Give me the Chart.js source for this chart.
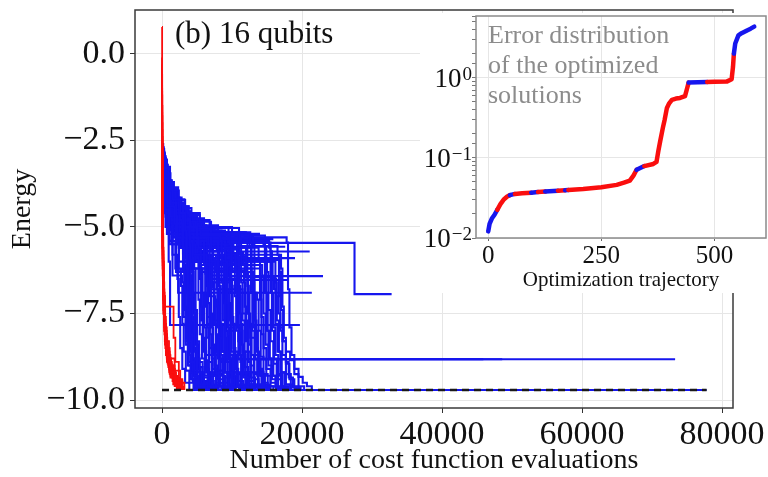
<!DOCTYPE html>
<html>
<head>
<meta charset="utf-8">
<script src="https://cdn.jsdelivr.net/npm/chart.js@4.4.0/dist/chart.umd.min.js"></script>
<style>
  html, body { margin: 0; padding: 0; background: #fff; }
  #wrap { position: relative; width: 768px; height: 477px; }
  #main { position: absolute; left: 0; top: 0; }
  #inset { position: absolute; left: 420px; top: 13px; background: #fff; }
</style>
</head>
<body>
<div id="wrap">
  <canvas id="main" width="768" height="477"></canvas>
  <canvas id="inset" width="348" height="280"></canvas>
</div>
<script>
// ---- main panel data: best energy so far, [evaluations, energy] ----
const energyTicks = [0, -2.5, -5, -7.5, -10];
const evalTicks = [0, 20000, 40000, 60000, 80000];
const groundEnergy = -9.71;
const groundEnd = 77800;

const blueRuns = [
  [[0,-2.6],[150,-2.9],[400,-3.3],[900,-3.8],[1500,-4.2],[2600,-4.6],[3300,-5.1],[3500,-6.2],[3700,-7.4],[3900,-8.3],[4200,-8.9],[4600,-9.3],[5200,-9.6],[6000,-9.71],[77800,-9.71]],
  [[0,-3.0],[300,-3.6],[800,-4.4],[1800,-4.9],[3000,-5.6],[3200,-6.8],[3400,-7.9],[3700,-8.7],[4100,-9.2],[4700,-9.55],[5500,-9.71],[22000,-9.71]],
  [[0,-3.3],[500,-4.0],[1200,-4.7],[2200,-5.3],[3600,-6.0],[3800,-7.2],[4000,-8.1],[4300,-8.8],[4700,-9.3],[5300,-9.6],[6200,-9.71],[25000,-9.71]],
  [[0,-2.8],[200,-3.4],[700,-4.3],[2000,-5.0],[3900,-5.5],[4100,-6.6],[4300,-7.7],[4600,-8.6],[5000,-9.2],[5600,-9.55],[6500,-9.71],[30000,-9.71]],
  [[0,-3.6],[400,-4.5],[1000,-5.2],[3100,-6.1],[3300,-7.3],[3500,-8.2],[3800,-8.9],[4300,-9.4],[5000,-9.65],[5800,-9.71],[24000,-9.71]],
  [[0,-3.1],[600,-3.9],[1400,-4.8],[2800,-5.4],[4300,-5.9],[4500,-7.0],[4700,-8.0],[5000,-8.8],[5400,-9.3],[6000,-9.6],[7000,-9.71],[46000,-9.71]],
  [[0,-3.9],[300,-4.6],[1100,-5.5],[2400,-6.3],[3400,-6.9],[3600,-7.9],[3900,-8.7],[4300,-9.2],[4900,-9.6],[5700,-9.71],[28000,-9.71]],
  [[0,-2.9],[350,-3.7],[1300,-4.5],[2500,-5.1],[3800,-5.2],[4000,-6.4],[4200,-7.6],[4500,-8.5],[4900,-9.1],[5500,-9.5],[6400,-9.71],[21000,-9.71]],
  [[0,-3.4],[700,-4.2],[1600,-4.9],[3300,-5.7],[3500,-6.9],[3700,-7.9],[4000,-8.6],[4400,-9.2],[5000,-9.55],[5900,-9.71],[46000,-9.71]],
  [[0,-4.1],[500,-5.0],[1500,-6.4],[2900,-6.6],[3100,-7.6],[3400,-8.4],[3800,-9.0],[4400,-9.45],[5200,-9.71],[23000,-9.71]],
  [[0,-3.2],[500,-4.1],[1500,-4.8],[3000,-5.3],[5200,-5.6],[6000,-6.1],[6200,-7.3],[6400,-8.2],[6700,-8.9],[7100,-9.3],[7700,-9.6],[8500,-9.71],[46000,-9.71]],
  [[0,-3.5],[800,-4.4],[2000,-5.2],[4500,-5.8],[6300,-6.5],[6500,-7.6],[6800,-8.5],[7200,-9.1],[7800,-9.5],[8600,-9.71],[26000,-9.71]],
  [[0,-2.9],[400,-3.8],[1200,-4.6],[2600,-5.0],[5000,-5.3],[6600,-5.5],[6800,-6.8],[7000,-7.9],[7300,-8.7],[7700,-9.2],[8300,-9.6],[9200,-9.71],[32000,-9.71]],
  [[0,-3.3],[600,-4.3],[1700,-5.0],[3500,-5.4],[6000,-5.8],[7700,-6.2],[7900,-7.3],[8100,-8.2],[8400,-8.9],[8800,-9.35],[9500,-9.65],[10500,-9.71],[46000,-9.71]],
  [[0,-3.7],[900,-4.6],[2200,-5.5],[4800,-6.0],[8000,-6.7],[8200,-7.8],[8500,-8.6],[8900,-9.2],[9500,-9.55],[10300,-9.71],[27000,-9.71]],
  [[0,-3.0],[450,-3.9],[1300,-4.7],[3000,-5.1],[5500,-5.25],[8300,-5.4],[8500,-6.6],[8700,-7.7],[9000,-8.6],[9400,-9.2],[10000,-9.6],[11000,-9.71],[29000,-9.71]],
  [[0,-3.1],[700,-4.0],[1900,-4.8],[4000,-5.3],[7000,-5.7],[9100,-6.0],[9300,-7.2],[9500,-8.1],[9800,-8.8],[10200,-9.3],[10900,-9.6],[11800,-9.71],[46000,-9.71]],
  [[0,-3.8],[1000,-4.7],[2500,-5.6],[5500,-6.2],[9400,-6.6],[9600,-7.7],[9900,-8.6],[10300,-9.2],[10900,-9.55],[11700,-9.71],[30000,-9.71]],
  [[0,-3.4],[600,-4.2],[1800,-4.9],[4200,-5.2],[9700,-5.5],[9900,-6.7],[10100,-7.8],[10400,-8.6],[10800,-9.2],[11400,-9.6],[12300,-9.71],[25000,-9.71]],
  [[0,-3.2],[800,-4.1],[2100,-4.9],[4500,-5.4],[8000,-5.8],[10500,-6.3],[10700,-7.4],[10900,-8.3],[11200,-8.9],[11600,-9.35],[12300,-9.65],[13200,-9.71],[46000,-9.71]],
  [[0,-3.6],[1100,-4.6],[2700,-5.3],[6000,-5.6],[10800,-5.9],[11000,-7.0],[11200,-8.0],[11500,-8.7],[11900,-9.2],[12500,-9.55],[13400,-9.71],[28000,-9.71]],
  [[0,-2.95],[500,-3.85],[1400,-4.65],[3400,-5.05],[7000,-5.2],[11100,-5.35],[11300,-6.6],[11500,-7.7],[11800,-8.6],[12200,-9.2],[12800,-9.6],[13700,-9.71],[33000,-9.71]],
  [[0,-3.3],[900,-4.3],[2300,-5.1],[5000,-5.5],[9000,-5.9],[12000,-6.4],[12200,-7.5],[12400,-8.4],[12700,-9.0],[13100,-9.4],[13800,-9.65],[14700,-9.71],[46000,-9.71]],
  [[0,-3.9],[1200,-4.9],[3000,-5.8],[7000,-6.3],[12300,-6.9],[12500,-7.9],[12800,-8.7],[13200,-9.2],[13800,-9.55],[14600,-9.71],[31000,-9.71]],
  [[0,-3.15],[650,-4.05],[2000,-4.85],[4800,-5.15],[12600,-5.45],[12800,-6.8],[13000,-7.9],[13300,-8.7],[13700,-9.25],[14300,-9.6],[15200,-9.71],[27000,-9.71]],
  [[0,-3.5],[1000,-4.5],[2600,-5.3],[6000,-5.7],[10000,-6.1],[14300,-6.4],[14500,-7.5],[14800,-8.4],[15200,-9.0],[15700,-9.4],[16400,-9.65],[17300,-9.71],[46000,-9.71]],
  [[0,-3.05],[550,-3.95],[1700,-4.75],[4000,-5.1],[9000,-5.25],[14700,-5.6],[14900,-6.9],[15100,-8.0],[15400,-8.8],[15900,-9.3],[16600,-9.6],[17500,-9.71],[34000,-9.71]],
  [[0,-3.7],[1200,-4.8],[3200,-5.6],[8000,-6.0],[16200,-6.6],[16400,-7.7],[16700,-8.6],[17100,-9.2],[17700,-9.55],[18500,-9.71],[46000,-9.71]],
  [[0,-3.25],[750,-4.15],[2300,-5.0],[5500,-5.35],[11000,-5.55],[16500,-5.8],[16700,-7.0],[16900,-8.0],[17200,-8.7],[17700,-9.25],[18400,-9.6],[19300,-9.71],[36000,-9.71]],
  [[0,-3.4],[900,-4.4],[2500,-5.2],[6500,-5.6],[12000,-6.0],[15800,-6.5],[16300,-7.0],[16600,-7.5],[16900,-7.9],[17200,-8.3],[17700,-8.6],[18300,-8.85],[18900,-9.1],[19500,-9.33],[20100,-9.5],[20700,-9.6],[21400,-9.71],[46000,-9.71]],
  [[0,-3.0],[400,-3.8],[1000,-4.5],[2400,-5.2],[3500,-5.8],[3700,-7.0],[3900,-8.0],[4200,-8.8],[4600,-9.3],[5300,-9.6],[6100,-9.71],[24000,-9.71]],
  [[0,-3.5],[600,-4.3],[1500,-5.0],[2800,-5.5],[3800,-6.3],[4000,-7.5],[4200,-8.4],[4500,-9.0],[5000,-9.4],[5700,-9.65],[6600,-9.71],[26000,-9.71]],
  [[0,-2.8],[300,-3.5],[900,-4.2],[2000,-4.8],[3000,-5.4],[4200,-5.7],[4400,-6.9],[4600,-7.9],[4900,-8.7],[5300,-9.2],[5900,-9.6],[6800,-9.71],[28000,-9.71]],
  [[0,-3.8],[500,-4.7],[1400,-5.4],[3000,-6.0],[4600,-6.2],[4800,-7.4],[5000,-8.3],[5300,-8.9],[5800,-9.35],[6500,-9.65],[7300,-9.71],[46000,-9.71]],
  [[0,-3.2],[700,-4.1],[1800,-4.9],[3300,-5.3],[5000,-5.9],[5200,-7.1],[5400,-8.1],[5700,-8.8],[6100,-9.3],[6800,-9.6],[7600,-9.71],[30000,-9.71]],
  [[0,-3.6],[800,-4.6],[2000,-5.3],[4000,-5.8],[5500,-6.4],[5700,-7.6],[5900,-8.5],[6200,-9.1],[6700,-9.45],[7400,-9.71],[22000,-9.71]],
  [[0,-2.9],[350,-3.7],[1100,-4.4],[2600,-5.0],[4400,-5.3],[6000,-5.6],[6200,-6.9],[6400,-7.9],[6700,-8.7],[7100,-9.25],[7700,-9.6],[8500,-9.71],[46000,-9.71]],
  [[0,-3.4],[600,-4.3],[1600,-5.1],[3600,-5.6],[5600,-6.1],[6800,-6.4],[7000,-7.5],[7200,-8.4],[7500,-9.0],[8000,-9.4],[8700,-9.65],[9500,-9.71],[27000,-9.71]],
  [[0,-3.1],[500,-4.0],[1400,-4.7],[3200,-5.2],[6000,-5.5],[7300,-5.9],[7500,-7.1],[7700,-8.1],[8000,-8.8],[8400,-9.3],[9000,-9.6],[9800,-9.71],[31000,-9.71]],
  [[0,-3.7],[900,-4.6],[2300,-5.4],[4600,-6.0],[7800,-6.8],[8000,-7.9],[8300,-8.7],[8700,-9.2],[9300,-9.55],[10100,-9.71],[46000,-9.71]],
  [[0,-3.3],[700,-4.2],[1900,-5.0],[4200,-5.4],[7000,-5.7],[8600,-6.0],[8800,-7.2],[9000,-8.2],[9300,-8.9],[9700,-9.35],[10300,-9.62],[11100,-9.71],[24000,-9.71]],
  [[0,-3.0],[450,-3.9],[1300,-4.6],[3100,-5.0],[6500,-5.3],[9000,-5.5],[9200,-6.8],[9400,-7.9],[9700,-8.7],[10100,-9.2],[10700,-9.58],[11500,-9.71],[29000,-9.71]],
  [[0,-3.5],[800,-4.4],[2100,-5.2],[4800,-5.7],[8000,-6.1],[9800,-6.5],[10000,-7.6],[10200,-8.5],[10500,-9.1],[10900,-9.45],[11600,-9.68],[12400,-9.71],[46000,-9.71]],
  [[0,-3.15],[600,-4.05],[1700,-4.85],[3800,-5.25],[7500,-5.5],[10200,-5.8],[10400,-7.0],[10600,-8.0],[10900,-8.8],[11300,-9.3],[11900,-9.6],[12700,-9.71],[26000,-9.71]],
  [[0,-3.8],[1000,-4.8],[2600,-5.6],[6000,-6.1],[11000,-6.7],[11200,-7.8],[11500,-8.6],[11900,-9.2],[12500,-9.55],[13300,-9.71],[33000,-9.71]],
  [[0,-3.3],[750,-4.2],[2000,-5.0],[4600,-5.4],[9000,-5.75],[11600,-6.1],[11800,-7.3],[12000,-8.3],[12300,-8.9],[12700,-9.35],[13300,-9.63],[14100,-9.71],[46000,-9.71]],
  [[0,-3.0],[500,-3.9],[1500,-4.7],[3500,-5.1],[8000,-5.3],[12500,-5.6],[12700,-6.9],[12900,-8.0],[13200,-8.8],[13600,-9.3],[14200,-9.6],[15000,-9.71],[30000,-9.71]],
  [[0,-3.6],[950,-4.6],[2500,-5.4],[5500,-5.9],[10000,-6.3],[13000,-6.6],[13200,-7.7],[13500,-8.6],[13900,-9.2],[14500,-9.55],[15300,-9.71],[46000,-9.71]],
  [[0,-3.2],[650,-4.1],[1800,-4.9],[4200,-5.3],[9000,-5.6],[13800,-5.9],[14000,-7.1],[14200,-8.1],[14500,-8.8],[14900,-9.3],[15500,-9.6],[16300,-9.71],[28000,-9.71]],
  [[0,-3.45],[850,-4.35],[2200,-5.15],[5000,-5.55],[10000,-5.95],[15000,-6.3],[15200,-7.4],[15500,-8.3],[15900,-8.95],[16400,-9.4],[17100,-9.65],[18000,-9.71],[46000,-9.71]],
  [[0,-3.1],[550,-4.0],[1600,-4.8],[3900,-5.2],[8500,-5.45],[15500,-5.7],[15700,-6.9],[15900,-7.9],[16200,-8.7],[16600,-9.25],[17200,-9.6],[18000,-9.71],[35000,-9.71]],
  [[0,-3.75],[1050,-4.75],[2800,-5.55],[6500,-6.05],[12000,-6.45],[16000,-6.8],[16200,-7.8],[16500,-8.6],[16900,-9.2],[17500,-9.55],[18300,-9.71],[46000,-9.71]],
  [[0,-3.35],[700,-4.25],[2000,-5.05],[4500,-5.45],[9500,-5.8],[17000,-6.2],[17200,-7.3],[17400,-8.2],[17700,-8.9],[18100,-9.35],[18700,-9.62],[19500,-9.71],[38000,-9.71]],
  [[0,-3.2],[300,-4.2],[800,-5.0],[1500,-5.8],[2200,-6.5],[2400,-7.6],[2600,-8.5],[2900,-9.1],[3300,-9.5],[3900,-9.71],[22000,-9.71]],
  [[0,-3.5],[400,-4.5],[1000,-5.4],[1900,-6.2],[2700,-6.7],[2900,-7.8],[3100,-8.6],[3400,-9.15],[3900,-9.5],[4500,-9.71],[25000,-9.71]],
  [[0,-2.9],[250,-3.8],[700,-4.7],[1400,-5.5],[2400,-6.0],[3000,-6.3],[3200,-7.4],[3400,-8.3],[3700,-9.0],[4100,-9.4],[4700,-9.65],[5400,-9.71],[27000,-9.71]],
  [[0,-3.9],[1200,-5.0],[3200,-5.9],[7000,-6.5],[10500,-6.9],[10700,-7.9],[11000,-8.7],[11400,-9.2],[12000,-9.55],[12800,-9.71],[46000,-9.71]],
  [[0,-4.0],[1300,-5.1],[3500,-6.0],[6500,-6.6],[8800,-7.1],[9000,-8.0],[9300,-8.75],[9700,-9.25],[10300,-9.6],[11100,-9.71],[29000,-9.71]],
  [[0,-3.85],[1100,-4.9],[3000,-5.75],[6200,-6.35],[7200,-6.75],[7400,-7.8],[7700,-8.6],[8100,-9.15],[8700,-9.5],[9500,-9.71],[46000,-9.71]],
  [[0,-4.2],[1500,-5.3],[3800,-6.2],[5800,-6.9],[6000,-7.9],[6300,-8.7],[6700,-9.2],[7300,-9.55],[8100,-9.71],[25000,-9.71]],
  [[0,-3.3],[650,-4.2],[1900,-5.0],[4300,-5.5],[8000,-5.85],[12000,-6.2],[14000,-6.5],[14200,-7.6],[14500,-8.5],[14900,-9.1],[15500,-9.5],[16300,-9.71],[46000,-9.71]],
  [[0,-3.55],[900,-4.55],[2400,-5.35],[5200,-5.8],[9500,-6.2],[12800,-6.5],[13000,-7.6],[13300,-8.5],[13700,-9.1],[14300,-9.5],[15100,-9.71],[32000,-9.71]],
  [[0,-3.05],[450,-3.95],[1300,-4.7],[3000,-5.15],[5800,-5.35],[8000,-5.5],[8200,-6.7],[8400,-7.8],[8700,-8.6],[9100,-9.2],[9700,-9.58],[10500,-9.71],[26000,-9.71]],
  [[0,-3.65],[1000,-4.65],[2600,-5.45],[5600,-5.95],[7500,-6.25],[11700,-6.6],[11900,-7.7],[12200,-8.6],[12600,-9.2],[13200,-9.55],[14000,-9.71],[46000,-9.71]],
  [[0,-3.25],[600,-4.15],[1700,-4.95],[4000,-5.35],[7800,-5.65],[10800,-6.4],[11000,-7.5],[11300,-8.4],[11700,-9.05],[12300,-9.45],[13100,-9.71],[30000,-9.71]],
  [[0,-3.95],[1200,-5.0],[3300,-5.85],[7000,-6.4],[9200,-6.9],[13600,-7.1],[13800,-8.0],[14100,-8.75],[14500,-9.25],[15100,-9.6],[15900,-9.71],[46000,-9.71]],
  [[0,-3.4],[750,-4.35],[2100,-5.15],[4800,-5.6],[8600,-5.95],[16800,-6.3],[17000,-7.4],[17300,-8.3],[17700,-8.95],[18200,-9.4],[18900,-9.65],[19800,-9.71],[46000,-9.71]],
  [[0,-3.1],[500,-4.0],[1500,-4.8],[3400,-5.25],[7000,-5.5],[9500,-5.65],[9700,-6.9],[9900,-7.9],[10200,-8.7],[10600,-9.25],[11200,-9.6],[12000,-9.71],[27000,-9.71]],
  [[0,-3.75],[1000,-4.75],[2700,-5.6],[5400,-6.15],[5600,-7.3],[5800,-8.2],[6100,-8.85],[6500,-9.3],[7100,-9.6],[7900,-9.71],[23000,-9.71]],
  [[0,-3.45],[800,-4.4],[2200,-5.2],[4700,-5.7],[6400,-6.1],[6600,-7.2],[6800,-8.1],[7100,-8.8],[7500,-9.3],[8100,-9.6],[8900,-9.71],[46000,-9.71]],
  // slow starters that fill the upper front
  [[0,-2.65],[100,-2.8],[250,-3.0],[500,-3.2],[800,-3.45],[1200,-3.7],[1700,-3.95],[2400,-4.2],[3200,-4.45],[4200,-4.65],[5400,-4.85],[7000,-5.05],[7200,-6.6],[7400,-7.8],[7700,-8.7],[8100,-9.25],[8700,-9.6],[9500,-9.71],[30000,-9.71]],
  [[0,-2.7],[120,-2.95],[300,-3.2],[600,-3.5],[1000,-3.8],[1500,-4.05],[2200,-4.35],[3000,-4.6],[4000,-4.85],[5600,-5.1],[8000,-5.3],[8800,-5.5],[9000,-6.9],[9200,-8.0],[9500,-8.8],[9900,-9.3],[10500,-9.62],[11300,-9.71],[46000,-9.71]],
  [[0,-2.8],[180,-3.1],[400,-3.35],[700,-3.6],[1100,-3.9],[1600,-4.15],[2300,-4.4],[3100,-4.65],[4300,-4.9],[6000,-5.15],[10500,-5.3],[10700,-6.8],[10900,-7.9],[11200,-8.7],[11600,-9.25],[12200,-9.6],[13000,-9.71],[33000,-9.71]],
  [[0,-2.75],[150,-3.0],[350,-3.25],[650,-3.55],[1000,-3.75],[1400,-4.0],[2000,-4.3],[2800,-4.5],[3600,-4.75],[5000,-5.0],[6500,-5.25],[13000,-5.5],[13200,-6.9],[13400,-8.0],[13700,-8.8],[14100,-9.3],[14700,-9.62],[15500,-9.71],[40000,-9.71]],
  [[0,-2.85],[200,-3.15],[450,-3.4],[800,-3.7],[1300,-4.0],[1900,-4.25],[2600,-4.5],[3500,-4.7],[4700,-4.95],[6300,-5.2],[9000,-5.4],[15300,-5.6],[15500,-6.9],[15700,-8.0],[16000,-8.8],[16400,-9.3],[17000,-9.62],[17800,-9.71],[46000,-9.71]],
  [[0,-2.9],[250,-3.2],[550,-3.5],[900,-3.8],[1350,-4.1],[2000,-4.35],[2900,-4.6],[4000,-4.85],[5200,-5.1],[5400,-6.5],[5600,-7.7],[5900,-8.6],[6300,-9.2],[6900,-9.58],[7700,-9.71],[26000,-9.71]],
  [[0,-2.95],[220,-3.3],[500,-3.6],[900,-3.9],[1400,-4.2],[2100,-4.45],[3000,-4.7],[4100,-4.9],[4300,-6.3],[4500,-7.5],[4800,-8.4],[5200,-9.05],[5800,-9.45],[6600,-9.71],[24000,-9.71]],
  [[0,-3.0],[200,-3.35],[450,-3.65],[850,-3.95],[1300,-4.25],[1900,-4.5],[2700,-4.75],[3700,-5.0],[3900,-6.4],[4100,-7.6],[4400,-8.5],[4800,-9.1],[5400,-9.5],[6200,-9.71],[22000,-9.71]],
  [[0,-2.7],[100,-2.9],[280,-3.15],[550,-3.4],[900,-3.65],[1300,-3.9],[1850,-4.15],[2500,-4.4],[3300,-4.6],[4400,-4.8],[5800,-4.95],[8000,-5.15],[12000,-5.25],[12200,-6.7],[12400,-7.8],[12700,-8.7],[13100,-9.25],[13700,-9.6],[14500,-9.71],[46000,-9.71]],
  [[0,-2.8],[160,-3.05],[380,-3.3],[700,-3.55],[1100,-3.85],[1600,-4.1],[2200,-4.3],[3000,-4.55],[4000,-4.8],[5200,-5.0],[7000,-5.2],[9500,-5.4],[14500,-5.5],[14700,-6.9],[14900,-8.0],[15200,-8.8],[15600,-9.3],[16200,-9.62],[17000,-9.71],[36000,-9.71]],
  [[0,-3.1],[300,-3.45],[650,-3.75],[1100,-4.05],[1700,-4.3],[2500,-4.55],[3400,-4.8],[4600,-5.05],[6100,-5.3],[6300,-6.7],[6500,-7.8],[6800,-8.7],[7200,-9.25],[7800,-9.6],[8600,-9.71],[28000,-9.71]],
  [[0,-2.65],[120,-2.9],[320,-3.15],[600,-3.4],[950,-3.65],[1400,-3.9],[2000,-4.15],[2800,-4.4],[3800,-4.6],[5000,-4.8],[6800,-5.0],[9500,-5.15],[11800,-5.3],[17800,-5.45],[18000,-6.8],[18200,-7.9],[18500,-8.7],[18900,-9.25],[19500,-9.6],[20300,-9.71],[46000,-9.71]],
  // runs that stopped before reaching the ground state
  [[0,-3.2],[600,-4.0],[1800,-4.7],[4000,-5.0],[7500,-5.46],[27500,-6.94],[32800,-6.94]],
  [[0,-3.5],[800,-4.5],[2200,-5.4],[4500,-6.2],[6800,-7.0],[7600,-7.7],[8300,-8.82],[73300,-8.82]],
  [[0,-3.6],[1000,-4.6],[2600,-5.5],[5500,-6.3],[9000,-7.2],[9800,-8.0],[10400,-8.82],[48600,-8.82]],
  [[0,-3.0],[500,-4.1],[1500,-5.0],[3600,-6.0],[7000,-6.8],[11500,-7.5],[12600,-8.2],[13300,-8.82],[45900,-8.82]],
  [[0,-3.0],[300,-4.3],[700,-5.2],[950,-6.0],[1150,-7.83],[19700,-7.83]],
  [[0,-3.3],[700,-4.4],[1700,-5.3],[2000,-6.3],[2300,-6.9],[21400,-6.9]],
  [[0,-3.6],[900,-4.7],[2400,-5.6],[5000,-6.0],[9500,-6.42],[23000,-6.42]],
  [[0,-3.1],[600,-4.2],[1600,-5.0],[3800,-5.7],[8000,-6.53],[18000,-6.53]],
  [[0,-3.4],[800,-4.3],[2200,-5.0],[6000,-5.4],[11000,-5.71],[21100,-5.71]],
  [[0,-3.7],[1100,-4.8],[3000,-5.5],[9000,-5.9],[19000,-5.9]],
  [[0,-2.9],[400,-3.7],[1200,-4.5],[3200,-5.1],[8500,-5.57],[17600,-5.57]],
  [[0,-2.75],[300,-3.3],[900,-3.9],[2100,-4.4],[3800,-4.75],[6000,-5.03],[11000,-5.35],[15900,-5.35]],
  [[0,-2.6],[150,-2.85],[400,-3.05],[700,-3.26],[1140,-3.85],[2300,-4.22],[3300,-4.6],[5400,-5.0],[10000,-5.2],[14000,-5.2]],
  [[0,-2.7],[250,-3.3],[800,-4.1],[2000,-4.6],[4200,-5.03],[7300,-5.03]]
];

const redRuns = [
  [[0,0.78],[15,-1.5],[40,-3.5],[80,-5.0],[150,-6.3],[250,-7.3],[400,-8.1],[700,-8.7],[1200,-9.2],[1900,-9.5],[2400,-9.71]],
  [[0,-0.6],[20,-2.8],[60,-4.6],[130,-6.0],[250,-7.0],[400,-7.9],[650,-8.5],[1100,-9.0],[1800,-9.4],[2600,-9.71]],
  [[0,-1.2],[30,-3.3],[80,-5.2],[170,-6.6],[320,-7.6],[550,-8.3],[1000,-8.8],[1800,-9.15],[2600,-9.5],[3200,-9.71]],
  [[0,-1.8],[25,-3.9],[70,-5.6],[160,-6.9],[300,-7.3],[1600,-7.3],[1650,-8.2],[1900,-8.9],[2400,-9.4],[2900,-9.71]],
  [[0,-2.2],[35,-4.3],[100,-6.1],[220,-7.4],[420,-8.2],[750,-8.8],[1300,-9.2],[2000,-9.5],[2700,-9.71]],
  [[0,-0.9],[15,-2.5],[45,-4.1],[100,-5.7],[200,-7.0],[380,-8.0],[650,-8.6],[1100,-9.1],[1800,-9.45],[2400,-9.71]],
  [[0,-1.5],[22,-3.6],[65,-5.4],[150,-6.8],[300,-7.8],[520,-8.5],[900,-9.0],[1600,-9.35],[2500,-9.71]],
  [[0,-2.6],[40,-4.8],[120,-6.5],[280,-7.8],[550,-8.6],[1000,-9.1],[1800,-9.45],[2900,-9.71]],
  [[0,-0.3],[12,-2.0],[35,-3.8],[90,-5.6],[190,-6.9],[360,-7.9],[620,-8.7],[1100,-9.25],[1800,-9.6],[2300,-9.71]],
  [[0,-1.0],[18,-3.0],[55,-4.9],[130,-6.3],[250,-7.4],[450,-8.3],[800,-8.9],[1400,-9.3],[2200,-9.55],[2900,-9.71]],
  [[0,-2.0],[30,-4.0],[85,-5.9],[190,-7.1],[380,-8.1],[680,-8.8],[1200,-9.3],[1900,-9.6],[2500,-9.71]],
  [[0,-0.1],[10,-1.8],[30,-3.4],[75,-5.3],[170,-6.8],[330,-7.9],[600,-8.7],[1050,-9.2],[1600,-9.55],[2100,-9.71]],
  [[0,-1.4],[15,-3.2],[45,-5.0],[100,-6.4],[210,-7.5],[400,-8.3],[700,-8.9],[1200,-9.35],[1900,-9.6],[2400,-9.71]],
  [[0,-0.7],[12,-2.4],[40,-4.3],[95,-6.0],[200,-7.2],[380,-8.1],[680,-8.75],[1150,-9.2],[1900,-9.55],[2700,-9.71]],
  [[0,-2.4],[30,-4.5],[90,-6.2],[210,-7.5],[420,-8.4],[800,-8.95],[1400,-9.35],[2200,-9.62],[3100,-9.71]],
  [[0,-1.1],[20,-3.1],[60,-5.1],[140,-6.6],[280,-7.7],[500,-8.5],[900,-9.05],[1500,-9.45],[2300,-9.71]],
  [[0,-0.4],[10,-2.2],[35,-4.0],[85,-5.8],[180,-7.1],[340,-8.0],[600,-8.65],[1050,-9.15],[1700,-9.5],[2500,-9.71]],
  [[0,-1.7],[25,-3.7],[75,-5.6],[170,-7.0],[330,-8.0],[600,-8.7],[1100,-9.2],[1800,-9.55],[2700,-9.71]]
];

// ---- inset data: sorted error of the final solutions ----
const insetIdx = [0,3,8,14,20,27,35,42,48,59,75,95,110,126,154,170,177,210,250,284,300,313,321,328,345,365,372,376,380,386,390,395,400,406,415,424,435,440,443,484,500,527,538,541,543,546,553,560,572,580,588];
const insetErr = [0.0121,0.0150,0.0175,0.0195,0.0225,0.0265,0.0305,0.0330,0.0343,0.0355,0.0362,0.0368,0.0374,0.0380,0.0390,0.0395,0.0398,0.0410,0.0430,0.0460,0.0490,0.0520,0.0600,0.0710,0.0790,0.0840,0.0890,0.121,0.160,0.237,0.300,0.420,0.480,0.530,0.550,0.560,0.590,0.750,0.870,0.885,0.890,0.895,0.960,1.36,2.0,2.68,3.38,3.6,3.9,4.1,4.35];
const insetSource = ['b','b','b','b','r','r','r','r','b','r','r','b','r','b','r','b','r','r','r','r','r','r','r','b','r','r','r','r','r','r','r','r','r','r','r','r','r','r','b','r','r','r','r','r','b','b','b','b','b','b','b'];
const insetXTicks = [0, 250, 500];
const insetDecades = [-2, -1, 0];

const serif = "'Liberation Serif', 'DejaVu Serif', serif";
const BLUE = 'rgb(22,22,238)';
const RED = 'rgb(250,14,14)';
Chart.defaults.font.family = serif;
Chart.defaults.color = '#111';

function fmtEnergy(v) {
  const s = Math.abs(v).toFixed(1);
  return v < 0 ? '\u2212' + s : s;
}

const frame = {
  id: 'frame',
  afterDraw(chart, args, opts) {
    const {ctx, chartArea: a} = chart;
    ctx.save();
    ctx.strokeStyle = opts.color;
    ctx.lineWidth = opts.width;
    ctx.strokeRect(a.left, a.top, a.right - a.left, a.bottom - a.top);
    ctx.restore();
  }
};

const panelLabel = {
  id: 'panelLabel',
  afterDraw(chart) {
    const ctx = chart.ctx;
    ctx.save();
    ctx.font = '31px ' + serif;
    ctx.fillStyle = '#111';
    ctx.textBaseline = 'alphabetic';
    ctx.fillText('(b) 16 qubits', 175, 43);
    ctx.restore();
  }
};

// main chart
const mainSets = [];
mainSets.push({ data: [[0, groundEnergy], [groundEnd, groundEnergy]], borderColor: '#1a1a1a', borderWidth: 2.4, borderDash: [7, 5], order: 0 });
redRuns.forEach(r => mainSets.push({ data: r, borderColor: RED, borderWidth: 1.8, stepped: true, order: 1 }));
blueRuns.forEach(r => mainSets.push({ data: r, borderColor: BLUE, borderWidth: 2.1, stepped: true, order: 2 }));

new Chart(document.getElementById('main'), {
  type: 'line',
  data: { datasets: mainSets },
  options: {
    responsive: false,
    animation: false,
    events: [],
    layout: { padding: { top: 10, right: 35, left: 0, bottom: 0 } },
    elements: { point: { radius: 0 }, line: { tension: 0 } },
    plugins: { legend: { display: false }, tooltip: { enabled: false }, frame: { color: '#3a3a3a', width: 1.5 } },
    scales: {
      x: {
        type: 'linear', min: -3860, max: 81570,
        afterBuildTicks: s => { s.ticks = evalTicks.map(v => ({ value: v })); },
        ticks: { font: { size: 34 }, color: '#111', padding: 2, maxRotation: 0, callback: v => String(v) },
        grid: { color: '#e6e6e6', tickColor: '#333', tickLength: 5 },
        border: { display: false },
        title: { display: true, text: 'Number of cost function evaluations', font: { size: 28 }, color: '#111', padding: { top: 0, bottom: 0 } },
        afterFit: s => { s.height = 69; s.paddingLeft = 0; s.paddingRight = 0; }
      },
      y: {
        type: 'linear', min: -10.23, max: 1.27,
        afterBuildTicks: s => { s.ticks = energyTicks.map(v => ({ value: v })); },
        ticks: { font: { size: 34 }, color: '#111', padding: 5, callback: v => fmtEnergy(v) },
        grid: { color: '#e6e6e6', tickColor: '#333', tickLength: 5 },
        border: { display: false },
        title: { display: true, text: 'Energy', font: { size: 28 }, color: '#111', padding: { top: 6, bottom: 0 } },
        afterFit: s => { s.width = 135; s.paddingTop = 0; s.paddingBottom = 0; }
      }
    }
  },
  plugins: [frame, panelLabel]
});

// inset chart
function isDecade(v) {
  const l = Math.log10(v);
  return Math.abs(l - Math.round(l)) < 1e-6;
}

const decadeLabels = {
  id: 'decadeLabels',
  afterDraw(chart) {
    const ctx = chart.ctx;
    const y = chart.scales.y;
    ctx.save();
    ctx.fillStyle = '#111';
    ctx.textAlign = 'right';
    ctx.textBaseline = 'alphabetic';
    insetDecades.forEach(n => {
      const py = y.getPixelForValue(Math.pow(10, n));
      const exp = n < 0 ? '\u2212' + Math.abs(n) : String(n);
      ctx.font = '19px ' + serif;
      const ew = ctx.measureText(exp).width;
      ctx.fillText(exp, 52, py + 2);
      ctx.font = '27px ' + serif;
      ctx.fillText('10', 51 - ew, py + 9);
    });
    ctx.restore();
  }
};

const insetNote = {
  id: 'insetNote',
  afterDraw(chart) {
    const ctx = chart.ctx;
    ctx.save();
    ctx.font = '26px ' + serif;
    ctx.fillStyle = '#8c8c8c';
    ctx.fillText('Error distribution', 68, 30);
    ctx.fillText('of the optimized', 68, 60);
    ctx.fillText('solutions', 68, 90);
    ctx.restore();
  }
};

new Chart(document.getElementById('inset'), {
  type: 'line',
  data: {
    datasets: [{
      data: insetIdx.map((x, i) => [x, insetErr[i]]),
      borderWidth: 4.5,
      borderCapStyle: 'round',
      borderJoinStyle: 'round',
      borderColor: RED,
      segment: { borderColor: c => insetSource[c.p0DataIndex] === 'b' ? BLUE : RED }
    }]
  },
  options: {
    responsive: false,
    animation: false,
    events: [],
    layout: { padding: { top: 3, right: 2, left: 0, bottom: 0 } },
    elements: { point: { radius: 0 }, line: { tension: 0 } },
    plugins: { legend: { display: false }, tooltip: { enabled: false }, frame: { color: '#8a8a8a', width: 1.5 } },
    scales: {
      x: {
        type: 'linear', min: -27, max: 614,
        afterBuildTicks: s => { s.ticks = insetXTicks.map(v => ({ value: v })); },
        ticks: { font: { size: 25 }, color: '#111', padding: 0, maxRotation: 0, callback: v => String(v) },
        grid: { color: '#e6e6e6', tickColor: '#666', tickLength: 3 },
        border: { display: false },
        title: { display: true, text: 'Optimization trajectory', font: { size: 21 }, color: '#111', padding: { top: 0, bottom: 0 } },
        afterFit: s => { s.height = 55; s.paddingLeft = 0; s.paddingRight = 0; }
      },
      y: {
        type: 'logarithmic', min: 0.01, max: 5.9,
        ticks: { autoSkip: false, padding: 1, callback: () => '' },
        grid: {
          color: c => (c.tick && isDecade(c.tick.value)) ? '#e6e6e6' : 'rgba(0,0,0,0)',
          tickColor: '#777', tickLength: 4
        },
        border: { display: false },
        afterFit: s => { s.width = 56; s.paddingTop = 0; s.paddingBottom = 0; }
      }
    }
  },
  plugins: [frame, decadeLabels, insetNote]
});
</script>
</body>
</html>
